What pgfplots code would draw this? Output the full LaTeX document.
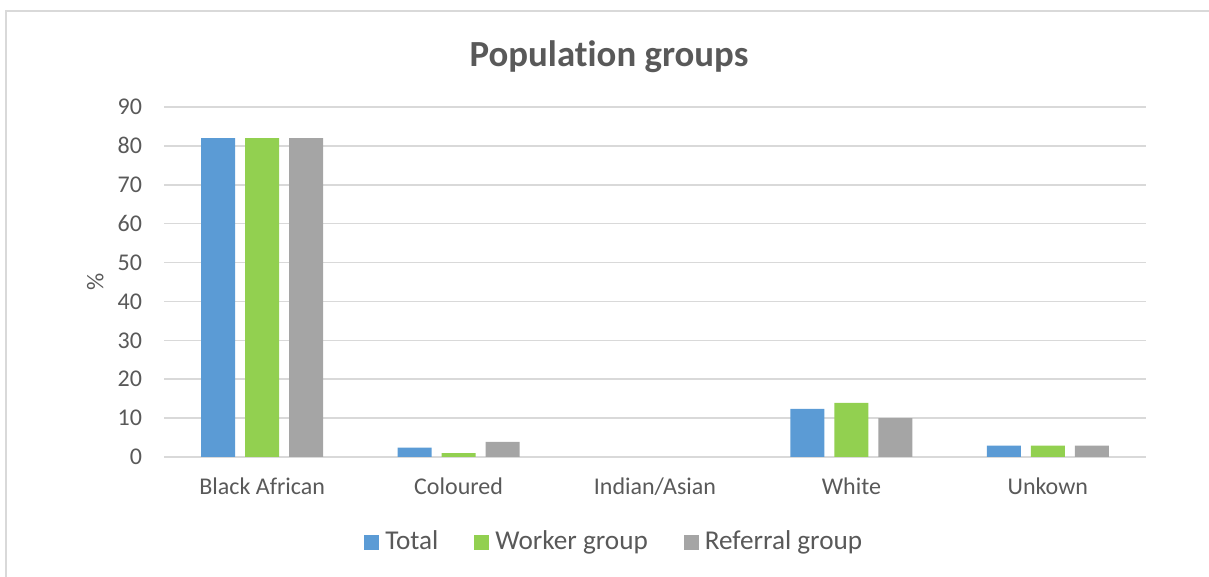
\documentclass[border=0pt]{standalone}
\usepackage{pgfplots}
\pgfplotsset{compat=1.18}
\usepackage{fontspec}
\setmainfont[Ligatures=NoCommon]{Carlito}
\definecolor{cTotal}{HTML}{5B9BD5}
\definecolor{cWorker}{HTML}{92D050}
\definecolor{cRef}{HTML}{A5A5A5}
\definecolor{cText}{HTML}{595959}
\definecolor{cGrid}{HTML}{D9D9D9}
\begin{document}
\begin{tikzpicture}
\useasboundingbox (0,0) rectangle (604.5pt,288.5pt);
\draw[cGrid, line width=0.8pt] (3pt,0) -- (3pt,283pt) -- (604.5pt,283pt);
\node[font=\bfseries\fontsize{18.4}{22}\selectfont, text=cText] at (304.5pt,260pt) {Population groups};
\begin{axis}[
  at={(82pt,60pt)}, anchor=south west,
  scale only axis, width=491pt, height=175pt,
  ybar=5pt, bar width=17pt,
  xmin=-0.5, xmax=4.5, ymin=0, ymax=90,
  xtick={0,1,2,3,4},
  xticklabels={Black African, Coloured, Indian/Asian, White, Unkown},
  ytick={0,10,...,90},
  axis x line*=bottom, axis y line*=left,
  x axis line style={cGrid, line width=0.8pt, -},
  y axis line style={draw=none},
  major tick length=0pt,
  ymajorgrids, grid style={cGrid, line width=0.8pt},
  tick label style={text=cText, font=\fontsize{12}{14}\selectfont},
  /pgf/number format/assume math mode=true,
  yticklabel style={xshift=-7.5pt},
  xticklabel style={yshift=-7pt},
  ylabel={\%},
  ylabel style={text=cText, font=\fontsize{12}{14}\selectfont,
    at={(axis description cs:-0.070,0.5)}, anchor=center, rotate=0},
  legend style={at={(axis description cs:0.4605,-0.243)}, anchor=center, draw=none,
    font=\fontsize{13.6}{16}\selectfont, text=cText, legend columns=3,
    /tikz/every even column/.append style={column sep=15pt},
    nodes={inner xsep=3pt}},
  legend image code/.code={\fill[#1] (0pt,-3.75pt) rectangle (7.5pt,3.75pt);},
]
\addplot[fill=cTotal, draw=none] coordinates {(0,82) (1,2.4) (3,12.4) (4,2.9)};
\addplot[fill=cWorker, draw=none] coordinates {(0,82) (1,1) (3,13.9) (4,2.9)};
\addplot[fill=cRef, draw=none] coordinates {(0,82) (1,3.9) (3,10) (4,2.9)};
\legend{Total, Worker group, Referral group}
\end{axis}
\end{tikzpicture}
\end{document}
